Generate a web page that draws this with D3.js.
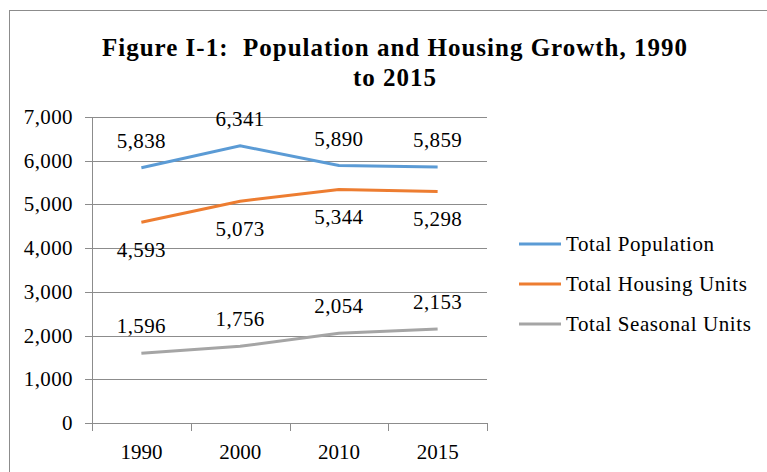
<!DOCTYPE html>
<html>
<head>
<meta charset="utf-8">
<script src="https://cdn.jsdelivr.net/npm/d3@7"></script>
<style>
  body { margin: 0; background: #fff; }
  text { font-family: "Liberation Serif", "DejaVu Serif", serif; fill: #000; }
</style>
</head>
<body>
<div id="chart"></div>
<script>
var W = 767, H = 472;

var years = ["1990", "2000", "2010", "2015"];
var population = [5838, 6341, 5890, 5859];
var housing = [4593, 5073, 5344, 5298];
var seasonal = [1596, 1756, 2054, 2153];
var yTicks = [0, 1000, 2000, 3000, 4000, 5000, 6000, 7000];
var seriesNames = ["Total Population", "Total Housing Units", "Total Seasonal Units"];

var series = [
	{name: seriesNames[0], values: population, color: "#5b9bd5", labelDy: -20},
	{name: seriesNames[1], values: housing, color: "#ed7d31", labelDy: 35},
	{name: seriesNames[2], values: seasonal, color: "#a5a5a5", labelDy: -20}
];

var fmt = d3.format(",");

var svg = d3.select("#chart").append("svg")
	.attr("width", W)
	.attr("height", H);

// chart border
svg.append("rect")
	.attr("x", 9.5)
	.attr("y", 10.5)
	.attr("width", W + 20)
	.attr("height", H + 20)
	.style("fill", "none")
	.style("stroke", "#8c8c8c")
	.style("stroke-width", 1);

// title
svg.append("text")
	.attr("x", 395)
	.attr("y", 56)
	.attr("text-anchor", "middle")
	.style("font-size", "25px")
	.style("font-weight", "bold")
	.style("letter-spacing", "1px")
	.style("white-space", "pre")
	.text("Figure I-1:  Population and Housing Growth, 1990");
svg.append("text")
	.attr("x", 395)
	.attr("y", 86)
	.attr("text-anchor", "middle")
	.style("font-size", "25px")
	.style("font-weight", "bold")
	.style("letter-spacing", "1px")
	.text("to 2015");

var x = d3.scaleBand().domain(years).range([92, 487]);
var y = d3.scaleLinear().domain([0, 7000]).range([423, 117]);

// gridlines
svg.append("g").selectAll("line")
	.data(yTicks)
	.enter()
	.append("line")
	.attr("x1", 85)
	.attr("x2", 487)
	.attr("y1", d => Math.round(y(d)) + 0.5)
	.attr("y2", d => Math.round(y(d)) + 0.5)
	.attr("stroke", "#8c8c8c")
	.attr("stroke-width", 1);

// y axis line
svg.append("line")
	.attr("x1", 92.5).attr("x2", 92.5)
	.attr("y1", 117).attr("y2", 431)
	.attr("stroke", "#8c8c8c");

// y tick labels
svg.append("g").selectAll("text")
	.data(yTicks)
	.enter()
	.append("text")
	.attr("x", 73)
	.attr("y", d => y(d) + 7)
	.attr("text-anchor", "end")
	.style("font-size", "21px")
	.style("letter-spacing", "0.4px")
	.text(d => fmt(d));

// x axis ticks
var xEdges = years.map(d => x(d)).concat([x.range()[1]]);
svg.append("g").selectAll("line")
	.data(xEdges)
	.enter()
	.append("line")
	.attr("x1", d => Math.round(d) + 0.5)
	.attr("x2", d => Math.round(d) + 0.5)
	.attr("y1", 423)
	.attr("y2", 431)
	.attr("stroke", "#8c8c8c");

svg.append("g").selectAll("text")
	.data(years)
	.enter()
	.append("text")
	.attr("x", d => x(d) + x.bandwidth() / 2)
	.attr("y", 459)
	.attr("text-anchor", "middle")
	.style("font-size", "21px")
	.text(d => d);

var line = d3.line()
	.x((d, i) => x(years[i]) + x.bandwidth() / 2)
	.y(d => y(d));

series.forEach(function(s) {
	svg.append("path")
		.datum(s.values)
		.attr("d", line)
		.attr("fill", "none")
		.attr("stroke", s.color)
		.attr("stroke-width", 3);

	svg.append("g").selectAll("text")
		.data(s.values)
		.enter()
		.append("text")
		.attr("x", (d, i) => x(years[i]) + x.bandwidth() / 2)
		.attr("y", d => y(d) + s.labelDy)
		.attr("text-anchor", "middle")
		.style("font-size", "21px")
		.style("letter-spacing", "0.4px")
		.text(d => fmt(d));
});

// legend
var legend = svg.append("g").selectAll("g")
	.data(series)
	.enter()
	.append("g")
	.attr("transform", (d, i) => "translate(519," + (244 + i * 40) + ")");

legend.append("line")
	.attr("x1", 0).attr("x2", 42)
	.attr("y1", 0).attr("y2", 0)
	.attr("stroke", d => d.color)
	.attr("stroke-width", 3);

legend.append("text")
	.attr("x", 47)
	.attr("y", 7)
	.style("font-size", "21px")
	.style("letter-spacing", "0.6px")
	.text(d => d.name);
</script>
</body>
</html>
